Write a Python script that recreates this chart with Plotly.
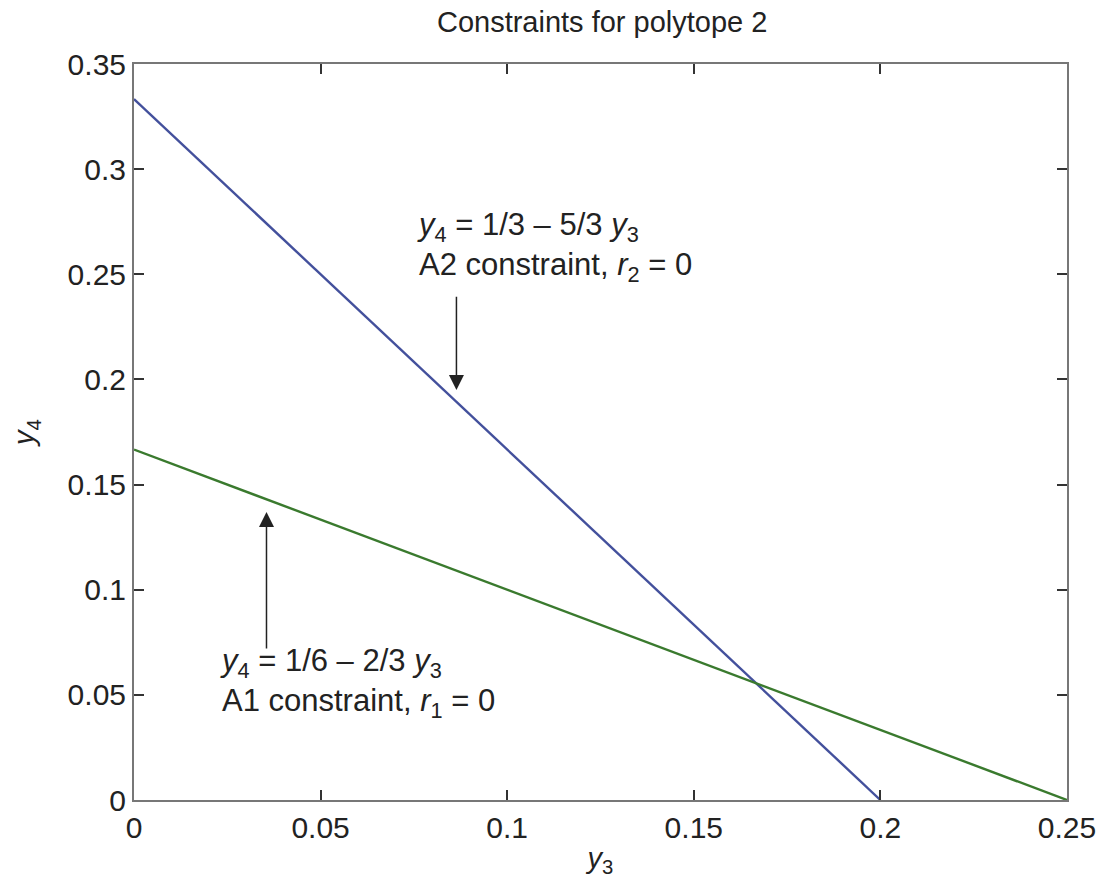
import plotly.graph_objects as go

# Data
a2_x = [0.0, 0.2]
a2_y = [1/3, 0.0]
a1_x = [0.0, 0.25]
a1_y = [1/6, 0.0]

x_ticks = [0, 0.05, 0.1, 0.15, 0.2, 0.25]
y_ticks = [0, 0.05, 0.1, 0.15, 0.2, 0.25, 0.3, 0.35]

# Annotation anchor points (data coords)
a2_arrow_tip = (0.0864, 0.195)
a2_arrow_tail = (0.0864, 0.240)
a1_arrow_tip = (0.0355, 0.137)
a1_arrow_tail = (0.0355, 0.0713)
a2_text_pos = (0.0752, 0.2628)
a1_text_pos = (0.0225, 0.0555)

FONT = "Liberation Sans, Arial, Helvetica, sans-serif"
TXT = "#222222"

fig = go.Figure()
fig.add_trace(go.Scatter(x=a2_x, y=a2_y, mode="lines",
                         line=dict(color="#43509c", width=2.4), showlegend=False))
fig.add_trace(go.Scatter(x=a1_x, y=a1_y, mode="lines",
                         line=dict(color="#3a7a2e", width=2.4), showlegend=False))

for tip, tail in [(a2_arrow_tip, a2_arrow_tail), (a1_arrow_tip, a1_arrow_tail)]:
    fig.add_annotation(x=tip[0], y=tip[1], ax=tail[0], ay=tail[1],
                       xref="x", yref="y", axref="x", ayref="y",
                       text="", showarrow=True, arrowhead=2, arrowsize=2.0,
                       arrowwidth=1.5, arrowcolor="#222222")

fig.add_annotation(x=a2_text_pos[0], y=a2_text_pos[1], xref="x", yref="y",
                   text="<i>y</i><sub>4</sub> = 1/3 \u2013 5/3 <i>y</i><sub>3</sub><br>A2 constraint, <i>r</i><sub>2</sub> = 0",
                   showarrow=False, xanchor="left", yanchor="middle", align="left",
                   font=dict(family=FONT, size=31, color=TXT))
fig.add_annotation(x=a1_text_pos[0], y=a1_text_pos[1], xref="x", yref="y",
                   text="<i>y</i><sub>4</sub> = 1/6 \u2013 2/3 <i>y</i><sub>3</sub><br>A1 constraint, <i>r</i><sub>1</sub> = 0",
                   showarrow=False, xanchor="left", yanchor="middle", align="left",
                   font=dict(family=FONT, size=31, color=TXT))

axis_common = dict(showline=True, linecolor="#777777", linewidth=2, mirror="ticks",
                   ticks="inside", ticklen=10, tickwidth=1.5, tickcolor="#333333",
                   showgrid=False, zeroline=False,
                   tickfont=dict(family=FONT, size=30, color=TXT))

fig.update_xaxes(range=[0, 0.25], tickvals=x_ticks,
                 ticktext=[f"{v:g}" for v in x_ticks],
                 title=dict(text="<i>y</i><sub>3</sub>", font=dict(family=FONT, size=29, color=TXT), standoff=5),
                 **axis_common)
fig.update_yaxes(range=[0, 0.35], tickvals=y_ticks,
                 ticktext=[f"{v:g}" for v in y_ticks],
                 title=dict(text="<i>y</i><sub>4</sub>", font=dict(family=FONT, size=29, color=TXT), standoff=24),
                 **axis_common)

fig.update_layout(
    width=1108, height=888,
    margin=dict(l=134, r=37, t=64, b=88),
    paper_bgcolor="white", plot_bgcolor="white",
    title=dict(text="Constraints for polytope 2", x=0.5435, xanchor="center",
               y=0.975, yanchor="middle",
               font=dict(family=FONT, size=29, color=TXT)),
)

fig.write_html("out.html")
